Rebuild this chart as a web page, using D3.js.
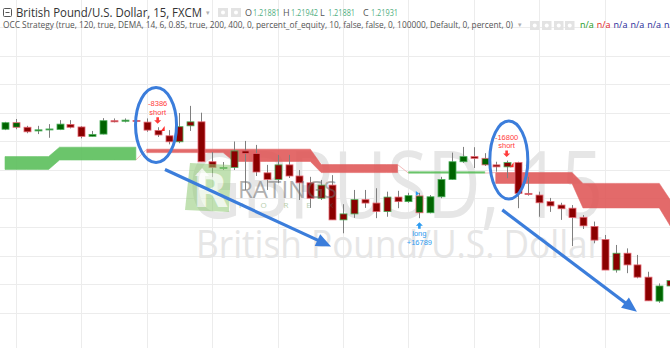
<!DOCTYPE html>
<html>
<head>
<meta charset="utf-8">
<script src="https://cdnjs.cloudflare.com/ajax/libs/d3/7.8.5/d3.min.js"></script>
<style>
  html, body { margin: 0; padding: 0; background: #fff; }
  svg { display: block; }
</style>
</head>
<body>
<svg id="chart" width="670" height="348"></svg>
<script>
// GBPUSD 15 min bars
const opens = [1.22443, 1.22466, 1.22450, 1.22437, 1.22441, 1.22442, 1.22460, 1.22451, 1.22418, 1.22426,
  1.22473, 1.22471, 1.22474, 1.22468, 1.22439, 1.22420, 1.22399, 1.22455, 1.22469, 1.22329,
  1.22306, 1.22309, 1.22367, 1.22358, 1.22290, 1.22267, 1.22318, 1.22279, 1.22255, 1.22201,
  1.22247, 1.22125, 1.22146, 1.22196, 1.22184, 1.22154, 1.22205, 1.22189, 1.22209, 1.22150,
  1.22206, 1.22267, 1.22329, 1.22347, 1.22341, 1.22318, 1.22311, 1.22326, 1.22218, 1.22212,
  1.22189, 1.22177, 1.22166, 1.22134, 1.22102, 1.22056, 1.21949, 1.22008, 1.21967, 1.21924,
  1.21840, 1.21893];
const highs = [1.22469, 1.22479, 1.22455, 1.22455, 1.22461, 1.22475, 1.22475, 1.22454, 1.22437, 1.22482,
  1.22481, 1.22481, 1.22475, 1.22481, 1.22450, 1.22440, 1.22500, 1.22525, 1.22501, 1.22363,
  1.22328, 1.22400, 1.22402, 1.22388, 1.22318, 1.22353, 1.22353, 1.22300, 1.22276, 1.22265,
  1.22282, 1.22180, 1.22230, 1.22230, 1.22236, 1.22224, 1.22227, 1.22220, 1.22220, 1.22212,
  1.22276, 1.22361, 1.22381, 1.22380, 1.22359, 1.22329, 1.22333, 1.22329, 1.22276, 1.22224,
  1.22202, 1.22185, 1.22177, 1.22142, 1.22119, 1.22072, 1.22037, 1.22025, 1.22002, 1.21943,
  1.21902, 1.21918];
const lows = [1.22440, 1.22443, 1.22429, 1.22426, 1.22413, 1.22440, 1.22446, 1.22411, 1.22417, 1.22425,
  1.22467, 1.22467, 1.22471, 1.22434, 1.22416, 1.22390, 1.22394, 1.22437, 1.22329, 1.22275,
  1.22300, 1.22300, 1.22230, 1.22279, 1.22230, 1.22254, 1.22272, 1.22195, 1.22167, 1.22195,
  1.22125, 1.22078, 1.22132, 1.22167, 1.22131, 1.22136, 1.22166, 1.22185, 1.22131, 1.22148,
  1.22201, 1.22265, 1.22325, 1.22307, 1.22314, 1.22294, 1.22271, 1.22166, 1.22210, 1.22136,
  1.22153, 1.22125, 1.22033, 1.22093, 1.22043, 1.21949, 1.21940, 1.21938, 1.21920, 1.21841,
  1.21834, 1.21889];
const closes = [1.22466, 1.22450, 1.22434, 1.22441, 1.22444, 1.22461, 1.22450, 1.22418, 1.22425, 1.22473,
  1.22469, 1.22475, 1.22472, 1.22440, 1.22423, 1.22399, 1.22452, 1.22469, 1.22329, 1.22309,
  1.22309, 1.22367, 1.22358, 1.22293, 1.22267, 1.22318, 1.22279, 1.22255, 1.22201, 1.22247,
  1.22125, 1.22146, 1.22196, 1.22184, 1.22154, 1.22205, 1.22189, 1.22210, 1.22150, 1.22206,
  1.22267, 1.22329, 1.22347, 1.22341, 1.22318, 1.22311, 1.22326, 1.22218, 1.22214, 1.22185,
  1.22174, 1.22164, 1.22133, 1.22104, 1.22054, 1.21949, 1.22008, 1.21967, 1.21924, 1.21841,
  1.21893, 1.21912];
// bar colour set by the strategy (g = long side, r = short side)
const barColors = "ggrgggrrggrgrrrrrrrrgrrrrrrrrrrrrrrrrggggggrgrrrrrrrrrrrrrrrg".split("");

// 120 min DEMA open/close series, one value per higher timeframe block
const blockStart = [0, 5, 13, 21, 29, 37, 45, 53, 61];
const blockEnd = [4, 12, 20, 28, 36, 44, 52, 60, 61];
const htfClose = [1.22347, 1.22380, 1.22361, 1.22330, 1.22291, 1.22294, 1.22253, 1.22167, 1.22104];
const htfOpen = [1.22302, 1.22335, 1.22373, 1.22373, 1.22319, 1.22289, 1.22291, 1.22253, 1.22195];

// strategy orders
const orders = [
  {bar: 14, side: "short", qty: "-8386"},
  {bar: 38, side: "long", qty: "+16789"},
  {bar: 46, side: "short", qty: "-16800"}
];

const title = "British Pound/U.S. Dollar, 15, FXCM";
const ohlcLabels = ["O", "H", "L", "C"];
const ohlcValues = ["1.21881", "1.21942", "1.21881", "1.21931"];
const studyTitle = "OCC Strategy (true, 120, true, DEMA, 14, 6, 0.85, true, 200, 400, 0, percent_of_equity, 10, false, false, 0, 100000, Default, 0, percent, 0)";
const studyValues = ["n/a", "n/a", "n/a", "n/a", "n/a", "n/a"];

const W = 670, H = 348;
const svg = d3.select("#chart");

const x = d3.scaleLinear().domain([0, 60]).range([5, 659.3]);
const y = d3.scaleLinear().domain([1.2190, 1.2200]).range([284, 255.5]);

const upCol = "#006400", dnCol = "#8b0000";
const upBorder = "#4cae5a", dnBorder = "#e36570";

// grid
const grid = svg.append("g");
grid.selectAll(".h").data(d3.range(1.2180, 1.2325, 0.001))
  .enter().append("line")
  .attr("x1", 0).attr("x2", W)
  .attr("y1", d => Math.round(y(d)) + 0.5).attr("y2", d => Math.round(y(d)) + 0.5)
  .attr("stroke", "#ececec");
grid.selectAll(".v").data(d3.range(1, 62, 6))
  .enter().append("line")
  .attr("y1", 0).attr("y2", H)
  .attr("x1", d => Math.round(x(d)) + 0.5).attr("x2", d => Math.round(x(d)) + 0.5)
  .attr("stroke", "#ececec");

// symbol watermark
svg.append("text")
  .attr("x", 188).attr("y", 218)
  .attr("font-family", "Open Sans, sans-serif").attr("font-size", 94)
  .attr("textLength", 415).attr("lengthAdjust", "spacingAndGlyphs")
  .attr("fill", "#e6e6e6")
  .text("GBPUSD, 15");
svg.append("text")
  .attr("x", 196).attr("y", 258)
  .attr("font-family", "Open Sans, sans-serif").attr("font-size", 38)
  .attr("textLength", 406).attr("lengthAdjust", "spacingAndGlyphs")
  .attr("fill", "#e6e6e6")
  .text("British Pound/U.S. Dollar");

// DEMA band
const bars = d3.range(closes.length).map(i => {
  const b = blockStart.findIndex((s, k) => i >= s && i <= blockEnd[k]);
  return {i, o: htfOpen[b], c: htfClose[b], up: htfClose[b] >= htfOpen[b]};
});
const runs = [];
bars.forEach(d => {
  const last = runs[runs.length - 1];
  if (last && last.up === d.up) last.pts.push(d);
  else runs.push({up: d.up, pts: [d]});
});
const band = d3.area().x(d => x(d.i)).y0(d => y(d.o)).y1(d => y(d.c));
const bandG = svg.append("g");
runs.forEach((r, k) => {
  bandG.append("path")
    .attr("d", band(r.pts))
    .attr("fill", r.up ? "#5cbf5c" : "#e05a5a")
    .attr("stroke", r.up ? "#5cbf5c" : "#e05a5a")
    .attr("stroke-width", 0.6)
    .attr("opacity", 0.9);
  if (k > 0) {
    const a = runs[k - 1].pts[runs[k - 1].pts.length - 1], b = r.pts[0];
    bandG.append("line")
      .attr("x1", x(a.i)).attr("y1", y(a.o))
      .attr("x2", x(b.i)).attr("y2", y(b.o))
      .attr("stroke", "#f0a0a0").attr("stroke-width", 1).attr("opacity", 0.7);
  }
});

// candles
const candles = svg.append("g").selectAll("g")
  .data(d3.range(closes.length))
  .enter().append("g");
candles.append("line")
  .attr("x1", i => Math.round(x(i)) + 0.5).attr("x2", i => Math.round(x(i)) + 0.5)
  .attr("y1", i => y(highs[i])).attr("y2", i => y(lows[i]))
  .attr("stroke", "#7f7f7f");
candles.append("rect")
  .attr("x", i => Math.round(x(i)) - 3)
  .attr("width", 7)
  .attr("y", i => y(Math.max(opens[i], closes[i])))
  .attr("height", i => Math.max(1, Math.abs(y(opens[i]) - y(closes[i]))))
  .attr("fill", i => barColors[i] === "g" ? upCol : dnCol)
  .attr("stroke", i => closes[i] >= opens[i] ? upBorder : dnBorder)
  .attr("stroke-width", 0.8);

// order markers
const ord = svg.append("g").attr("font-family", "Liberation Sans, Arial, sans-serif").attr("font-size", 7.5)
  .attr("text-anchor", "middle");
orders.forEach(o => {
  const cx = x(o.bar);
  if (o.side === "short") {
    const top = y(highs[o.bar]);
    const col = "#ff3b3b";
    ord.append("text").attr("x", cx).attr("y", top - 21).attr("fill", col).text(o.qty);
    ord.append("text").attr("x", cx).attr("y", top - 12.5).attr("fill", col).text(o.side);
    ord.append("path")
      .attr("d", `M${cx - 1.3},${top - 10}h2.6v3h2.2l-3.5,3.5l-3.5,-3.5h2.2z`)
      .attr("fill", col);
    const yo = y(opens[o.bar]);
    ord.append("path")
      .attr("d", `M${cx + 7},${yo - 4.5}L${cx + 7},${yo + 0.5}L${cx + 3.2},${yo + 0.5}z`)
      .attr("fill", "#ff2a2a");
  } else {
    const bot = y(lows[o.bar]);
    const col = "#2d9bf0";
    ord.append("path")
      .attr("d", `M${cx},${bot + 4}l3.5,3.5h-2.2v3h-2.6v-3h-2.2z`)
      .attr("fill", col);
    ord.append("text").attr("x", cx).attr("y", bot + 18).attr("fill", col).text(o.side);
    ord.append("text").attr("x", cx).attr("y", bot + 26.5).attr("fill", col).text(o.qty);
    const yo = y(opens[o.bar]);
    ord.append("path")
      .attr("d", `M${cx - 3.6},${yo - 5}L${cx - 0.3},${yo - 2.5}L${cx - 3.6},${yo}z`)
      .attr("fill", col);
  }
});

// ratings forex logo overlay
const logo = svg.append("g").attr("opacity", 0.55);
logo.append("path")
  .attr("d", "M190,163L231,165L229,212L185,210Z")
  .attr("fill", "#8fca74");
logo.append("text")
  .attr("x", 193).attr("y", 207)
  .attr("font-family", "DejaVu Sans, sans-serif").attr("font-size", 46).attr("font-weight", "bold")
  .attr("fill", "#ffffff").attr("opacity", 0.75)
  .text("R");
logo.append("path")
  .attr("d", "M199,190L199,176L195,176L202,168L209,176L205,176L205,190Z")
  .attr("fill", "#ffffff").attr("opacity", 0.8);
logo.append("text")
  .attr("x", 238).attr("y", 198)
  .attr("font-family", "Open Sans, sans-serif").attr("font-size", 24)
  .attr("textLength", 99).attr("lengthAdjust", "spacingAndGlyphs")
  .attr("fill", "#707070")
  .text("RATINGS");
logo.selectAll(".fx").data("FOREX".split(""))
  .enter().append("text")
  .attr("x", (d, k) => 241 + k * 22.5).attr("y", 208)
  .attr("font-family", "Open Sans, sans-serif").attr("font-size", 8)
  .attr("text-anchor", "middle")
  .attr("fill", (d, k) => k === 4 ? "#555" : "#7aa86a")
  .text(d => d);

// blue hand drawn annotations
const blue = "#3b7ddb";
const ann = svg.append("g");
[{bar: 13.85, price: 1.22458, rx: 20.5, ry: 37.5}, {bar: 46.2, price: 1.22335, rx: 19, ry: 39}]
  .forEach(e => {
    ann.append("ellipse")
      .attr("cx", x(e.bar)).attr("cy", y(e.price))
      .attr("rx", e.rx).attr("ry", e.ry)
      .attr("fill", "none").attr("stroke", blue).attr("stroke-width", 3);
  });
[{b0: 14.67, p0: 1.22302, b1: 29.9, p1: 1.22032}, {b0: 45.6, p0: 1.22160, b1: 57.95, p1: 1.21803}]
  .forEach(a => {
    const x0 = x(a.b0), y0 = y(a.p0), x1 = x(a.b1), y1 = y(a.p1);
    const ang = Math.atan2(y1 - y0, x1 - x0);
    const len = 15, half = 6.5;
    const bx = x1 - len * Math.cos(ang), by = y1 - len * Math.sin(ang);
    ann.append("line")
      .attr("x1", x0).attr("y1", y0).attr("x2", bx + 2 * Math.cos(ang)).attr("y2", by + 2 * Math.sin(ang))
      .attr("stroke", blue).attr("stroke-width", 3.2);
    ann.append("path")
      .attr("d", `M${x1},${y1}L${bx + half * Math.sin(ang)},${by - half * Math.cos(ang)}L${bx - half * Math.sin(ang)},${by + half * Math.cos(ang)}Z`)
      .attr("fill", blue);
  });

// legend / header
const head = svg.append("g").attr("font-family", "Open Sans, sans-serif");
head.append("rect").attr("x", 3.5).attr("y", 8.5).attr("width", 8).attr("height", 8)
  .attr("rx", 1).attr("fill", "none").attr("stroke", "#555");
head.append("line").attr("x1", 5.5).attr("x2", 9.5).attr("y1", 12.5).attr("y2", 12.5).attr("stroke", "#555");
head.append("text").attr("x", 16).attr("y", 16.5).attr("font-size", 12.5)
  .attr("textLength", 186).attr("lengthAdjust", "spacingAndGlyphs")
  .attr("fill", "#333").text(title);
head.append("text").attr("x", 206).attr("y", 15).attr("font-size", 7).attr("fill", "#b0b0b0").text("▾");
[218, 231].forEach(px => {
  head.append("rect").attr("x", px).attr("y", 8).attr("width", 10).attr("height", 9).attr("fill", "#e3e3e3");
  head.append("circle").attr("cx", px + 5).attr("cy", 12.5).attr("r", 2).attr("fill", "#fff");
});
const ohlcX = [245, 283, 320, 363];
ohlcLabels.forEach((l, k) => {
  head.append("text").attr("x", ohlcX[k]).attr("y", 15.5).attr("font-size", 9).attr("fill", "#555").text(l);
  head.append("text").attr("x", ohlcX[k] + 8).attr("y", 15.5).attr("font-size", 9)
    .attr("textLength", 27).attr("lengthAdjust", "spacingAndGlyphs")
    .attr("fill", "#4fae80").text(ohlcValues[k]);
});
head.append("text").attr("x", 3).attr("y", 28).attr("font-size", 8.6)
  .attr("textLength", 510).attr("lengthAdjust", "spacingAndGlyphs")
  .attr("fill", "#555").text(studyTitle);
head.append("text").attr("x", 518).attr("y", 27).attr("font-size", 7).attr("fill", "#b0b0b0").text("▾");
[530, 542, 554, 565].forEach(px => {
  head.append("rect").attr("x", px).attr("y", 21).attr("width", 9.5).attr("height", 9).attr("fill", "#e3e3e3");
  head.append("circle").attr("cx", px + 4.75).attr("cy", 25.5).attr("r", 2).attr("fill", "#fff");
});
const naCols = ["#1a9a1a", "#e01818", "#1f2a99", "#1f2a99", "#1f2a99", "#1f2a99"];
studyValues.forEach((v, k) => {
  head.append("text").attr("x", 580 + k * 16.8).attr("y", 28).attr("font-size", 9)
    .attr("fill", naCols[k]).text(v);
});
</script>
</body>
</html>
